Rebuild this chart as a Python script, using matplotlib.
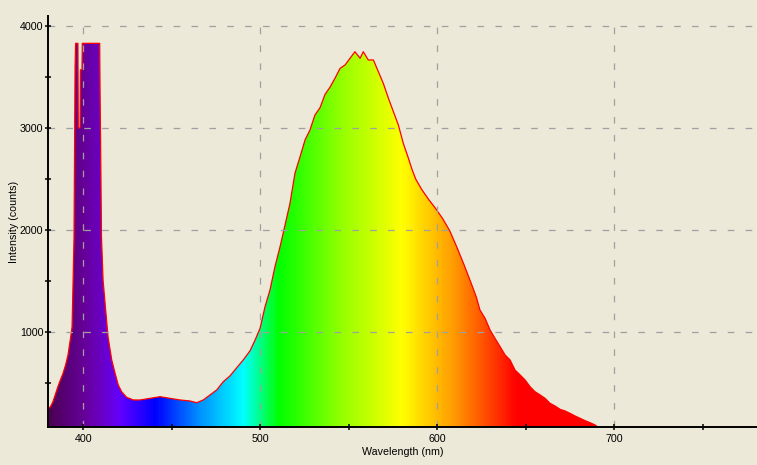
import numpy as np
import matplotlib
matplotlib.use('Agg')
import matplotlib.pyplot as plt
from matplotlib.colors import LinearSegmentedColormap
from matplotlib.ticker import MultipleLocator

# spectrum (nm, counts); plateau = detector saturation
wavelength = [380.0, 381.5, 382.8, 384.2, 385.6, 387.0, 388.5, 390.0, 391.3, 392.8,
              393.6, 394.1, 394.7, 395.3, 395.6, 396.9, 397.1, 398.1, 398.3, 399.2,
              399.4, 409.2, 409.4, 409.8, 410.2, 411.1, 412.4, 413.9, 416.0, 417.9,
              419.7, 421.6, 424.4, 428.2, 432.0, 437.6, 443.3, 448.9, 454.6, 460.2,
              464.0, 467.7, 471.5, 475.3, 479.0, 482.8, 486.6, 490.3, 494.1, 497.0,
              499.8, 502.6, 505.4, 508.2, 511.1, 513.9, 516.7, 519.5, 522.4, 525.2,
              528.0, 530.8, 533.7, 536.5, 539.3, 542.1, 545.0, 547.8, 550.6, 553.4,
              556.3, 558.1, 560.9, 563.8, 566.6, 569.4, 572.3, 575.1, 577.9, 580.7,
              583.6, 585.5, 587.7, 591.0, 595.0, 599.0, 603.0, 607.0, 611.0, 615.0,
              619.0, 622.0, 624.0, 626.9, 629.7, 632.5, 635.4, 638.2, 641.0, 643.8,
              646.7, 649.5, 652.3, 655.1, 658.0, 660.8, 663.6, 666.4, 669.3, 672.1,
              674.9, 677.7, 680.6, 683.4, 686.2, 689.0, 690.5]
counts = [245, 270, 317, 390, 464, 530, 595, 680, 775, 950,
          1050, 1440, 1920, 3600, 3830, 3830, 3000, 3000, 3570, 3570,
          3830, 3830, 3370, 2700, 1935, 1510, 1250, 954, 726, 595,
          480, 415, 360, 334, 334, 350, 366, 350, 334, 324,
          307, 334, 383, 432, 513, 570, 650, 726, 815, 922,
          1037, 1248, 1412, 1640, 1837, 2049, 2262, 2556, 2719, 2883,
          2981, 3128, 3200, 3330, 3400, 3487, 3585, 3618, 3683, 3748,
          3683, 3748, 3667, 3667, 3552, 3438, 3291, 3160, 3030, 2850,
          2703, 2600, 2500, 2400, 2300, 2210, 2110, 1990, 1830, 1660,
          1480, 1340, 1216, 1134, 1020, 938, 856, 775, 726, 628,
          579, 530, 464, 415, 383, 350, 301, 275, 242, 226,
          203, 177, 154, 131, 111, 89, 69]

# colour of each wavelength (visible spectrum ramp)
spec_nm = [380, 400, 410, 420, 440, 465, 490, 510, 545, 580, 610, 645, 781]
spec_col = ['#4b0055', '#66009a', '#6a00c8', '#6200ff', '#0000ff', '#0090ff',
            '#00ffff', '#00ff00', '#92ff00', '#ffff00', '#ff9800', '#ff0000', '#ff0000']

x_lo, x_hi = 380, 780.5
y_lo, y_hi = 69, 4098
bg = '#ece9d8'

plt.rcParams['font.family'] = ['Liberation Sans', 'DejaVu Sans']

fig = plt.figure(figsize=(7.57, 4.65), dpi=100, facecolor=bg)
ax = fig.add_axes([48 / 757, 38 / 465, 709 / 757, 411 / 465], facecolor=bg)

# gradient image clipped to the area under the curve
pos = [(w - spec_nm[0]) / (spec_nm[-1] - spec_nm[0]) for w in spec_nm]
cmap = LinearSegmentedColormap.from_list('spec', list(zip(pos, spec_col)))
ramp = np.linspace(x_lo, x_hi, 800)
ramp = (ramp - spec_nm[0]) / (spec_nm[-1] - spec_nm[0])
im = ax.imshow(ramp[np.newaxis, :], cmap=cmap, vmin=0, vmax=1, aspect='auto',
               extent=[x_lo, x_hi, y_lo, y_hi], origin='lower', zorder=1,
               interpolation='bilinear')
area = ax.fill_between(wavelength, counts, y_lo, facecolor='none', edgecolor='none')
im.set_clip_path(area.get_paths()[0], ax.transData)

ax.plot(wavelength, counts, color='#ff0000', lw=0.9, zorder=2)

ax.set_xlim(x_lo, x_hi)
ax.set_ylim(y_lo, y_hi)

ax.xaxis.set_major_locator(MultipleLocator(100))
ax.xaxis.set_minor_locator(MultipleLocator(50))
ax.yaxis.set_major_locator(MultipleLocator(1000))
ax.yaxis.set_minor_locator(MultipleLocator(500))

ax.set_axisbelow(False)
ax.grid(which='major', color='#a0a0a0', lw=0.9, linestyle=(0, (5.3, 9)))

for s in ['top', 'right']:
    ax.spines[s].set_visible(False)
for s in ['left', 'bottom']:
    ax.spines[s].set_linewidth(1.4)
    ax.spines[s].set_zorder(3)

ax.tick_params(which='both', direction='inout', length=5, width=1.1,
               labelsize=7.7, colors='black')
ax.tick_params(axis='y', pad=0.8)
ax.tick_params(axis='x', pad=2.5)

ax.set_xlabel('Wavelength (nm)', fontsize=7.7, labelpad=2)
ax.set_ylabel('Intensity (counts)', fontsize=7.7, labelpad=0.5)

plt.savefig('out.png', dpi=100, facecolor=bg)
plt.close(fig)
